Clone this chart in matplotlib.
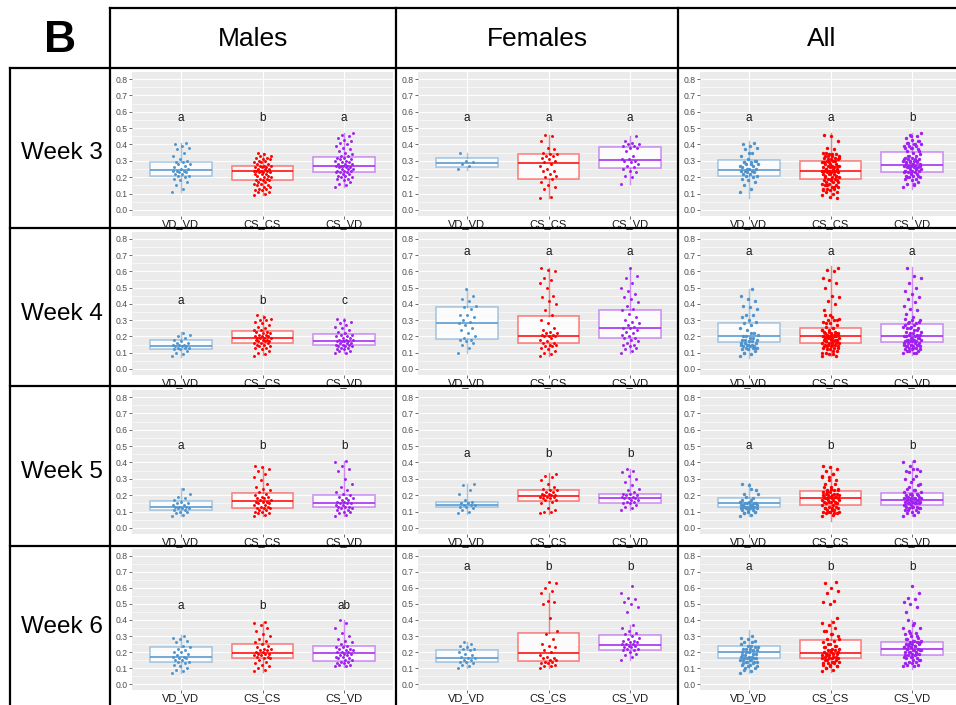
import numpy as np
import matplotlib
matplotlib.use("Agg")
import matplotlib.pyplot as plt
from matplotlib.lines import Line2D
from matplotlib.ticker import FormatStrFormatter, MultipleLocator

plt.rcParams['font.family'] = ['Liberation Sans', 'DejaVu Sans']

genotypes = ["VD_VD", "CS_CS", "CS_VD"]
sexes = ["Males", "Females", "All"]
weeks = ["Week 3", "Week 4", "Week 5", "Week 6"]
colors = ["#4F94CD", "#FF0000", "#A020F0"]

# individual values (x100), one list per genotype: VD_VD, CS_CS, CS_VD
males_w3 = [
    [11, 13, 15, 17, 18, 19, 20, 21, 21, 22, 22, 23, 23, 24, 24, 24, 25, 25, 26, 27, 28, 28, 29, 29, 30, 31, 33, 35, 37, 38, 39, 40, 41],
    [9, 10, 11, 11, 12, 12, 13, 13, 14, 14, 15, 15, 16, 16, 17, 17, 18, 18, 18, 19, 19, 20, 20, 21, 21, 22, 22, 22, 23, 23, 23, 24, 24, 24,
     24, 25, 25, 25, 26, 26, 26, 27, 27, 27, 28, 28, 29, 29, 30, 30, 31, 31, 32, 32, 33, 33, 34, 35],
    [14, 15, 16, 17, 18, 19, 19, 20, 20, 21, 21, 22, 22, 23, 23, 23, 24, 24, 24, 25, 25, 25, 26, 26, 26, 27, 27, 27, 27, 28, 28, 28, 29,
     29, 30, 30, 31, 31, 32, 32, 33, 33, 34, 35, 36, 37, 38, 39, 40, 41, 42, 43, 44, 45, 46, 47],
]
females_w3 = [
    [25, 27, 28, 29, 30, 35],
    [7, 8, 13, 14, 15, 17, 19, 20, 21, 22, 24, 24, 25, 27, 28, 29, 30, 31, 32, 33, 33, 34, 34, 35, 37, 38, 42, 45, 46],
    [16, 20, 21, 23, 24, 25, 26, 27, 28, 29, 30, 30, 31, 31, 33, 36, 38, 38, 39, 39, 40, 40, 41, 42, 45],
]
males_w4 = [
    [8, 9, 10, 11, 12, 12, 13, 13, 13, 14, 14, 14, 15, 15, 15, 16, 16, 17, 18, 19, 20, 21, 22],
    [8, 9, 10, 11, 12, 13, 13, 14, 14, 15, 15, 16, 16, 16, 17, 17, 17, 18, 18, 18, 19, 19, 19, 19, 20, 20, 20, 21, 21, 22, 22, 23, 23,
     24, 24, 25, 26, 27, 28, 29, 30, 30, 31, 32, 33],
    [10, 10, 11, 11, 12, 12, 13, 13, 14, 14, 14, 15, 15, 15, 16, 16, 16, 17, 17, 17, 17, 18, 18, 18, 19, 19, 20, 20, 21, 21, 22, 23, 24,
     25, 26, 27, 28, 29, 30, 31],
]
females_w4 = [
    [10, 13, 15, 16, 17, 18, 18, 19, 20, 22, 24, 25, 27, 28, 29, 30, 32, 33, 33, 37, 38, 39, 42, 43, 45, 49],
    [8, 9, 10, 11, 12, 13, 14, 14, 15, 15, 16, 16, 17, 18, 19, 20, 20, 20, 21, 21, 22, 22, 23, 24, 25, 28, 30, 33, 36, 40, 42, 44, 45,
     50, 53, 55, 56, 60, 61, 62],
    [10, 11, 12, 13, 14, 15, 15, 16, 17, 18, 19, 19, 20, 21, 22, 23, 24, 25, 25, 26, 27, 28, 29, 30, 32, 34, 36, 37, 39, 41, 43, 44, 46,
     48, 50, 53, 56, 57, 62],
]
males_w5 = [
    [7, 8, 9, 10, 10, 11, 11, 12, 12, 12, 13, 13, 13, 14, 14, 15, 15, 16, 17, 18, 19, 21, 24],
    [7, 8, 9, 9, 10, 10, 11, 11, 12, 12, 12, 13, 13, 14, 14, 15, 15, 16, 16, 16, 17, 17, 18, 18, 19, 19, 20, 21, 22, 23, 24, 25, 27, 29,
     31, 33, 35, 36, 37, 38],
    [7, 8, 9, 10, 10, 11, 11, 12, 12, 13, 13, 13, 14, 14, 15, 15, 15, 16, 16, 17, 17, 18, 18, 19, 20, 21, 22, 23, 25, 27, 30, 35, 36, 38,
     40, 41],
]
females_w5 = [
    [9, 10, 11, 12, 13, 13, 14, 14, 14, 15, 15, 16, 17, 21, 23, 26, 27],
    [9, 10, 10, 11, 12, 15, 16, 17, 17, 18, 18, 19, 19, 19, 20, 20, 20, 21, 21, 22, 22, 23, 23, 24, 25, 27, 29, 31, 32, 33],
    [11, 12, 13, 14, 15, 15, 16, 16, 17, 17, 18, 18, 18, 19, 19, 20, 20, 21, 21, 22, 23, 24, 26, 28, 30, 32, 34, 35, 36],
]
males_w6 = [
    [7, 8, 9, 10, 11, 12, 13, 14, 14, 15, 15, 16, 16, 17, 17, 18, 19, 20, 20, 21, 22, 23, 24, 26, 27, 28, 29, 30],
    [8, 9, 10, 11, 12, 13, 14, 15, 16, 16, 17, 17, 18, 18, 19, 19, 19, 20, 20, 21, 21, 22, 22, 23, 24, 25, 26, 27, 28, 30, 31, 33, 35,
     37, 38, 39],
    [11, 11, 12, 12, 13, 13, 14, 14, 15, 15, 16, 16, 17, 17, 18, 18, 19, 19, 20, 20, 20, 21, 21, 22, 22, 23, 23, 24, 25, 26, 27, 28, 30,
     32, 35, 38, 40],
]
females_w6 = [
    [10, 11, 12, 13, 14, 14, 15, 15, 16, 16, 17, 18, 19, 20, 21, 22, 22, 23, 24, 25, 26],
    [10, 11, 11, 12, 13, 13, 14, 14, 15, 15, 16, 16, 17, 18, 20, 21, 23, 24, 25, 28, 31, 33, 41, 50, 51, 52, 57, 58, 60, 63, 64],
    [15, 17, 18, 19, 20, 21, 21, 22, 22, 23, 23, 24, 24, 25, 25, 25, 26, 26, 27, 27, 28, 29, 30, 31, 32, 33, 35, 37, 45, 48, 50, 51, 53,
     54, 57, 61],
]

# box statistics per genotype: (q1, median, q3, whisker low, whisker high)
box_males = [
    [(0.21, 0.245, 0.295, 0.11, 0.41), (0.18, 0.235, 0.27, 0.09, 0.35), (0.23, 0.27, 0.325, 0.14, 0.47)],
    [(0.12, 0.14, 0.18, 0.075, 0.225), (0.16, 0.19, 0.235, 0.085, 0.335), (0.145, 0.17, 0.215, 0.10, 0.315)],
    [(0.11, 0.13, 0.165, 0.07, 0.245), (0.12, 0.165, 0.215, 0.07, 0.38), (0.125, 0.155, 0.20, 0.07, 0.41)],
    [(0.14, 0.17, 0.23, 0.07, 0.305), (0.16, 0.195, 0.25, 0.075, 0.39), (0.145, 0.195, 0.235, 0.105, 0.40)],
]
box_females = [
    [(0.265, 0.285, 0.315, 0.245, 0.35), (0.19, 0.285, 0.34, 0.075, 0.46), (0.255, 0.305, 0.385, 0.16, 0.45)],
    [(0.185, 0.28, 0.38, 0.10, 0.49), (0.16, 0.205, 0.325, 0.08, 0.62), (0.19, 0.25, 0.36, 0.10, 0.62)],
    [(0.125, 0.14, 0.16, 0.085, 0.27), (0.165, 0.195, 0.23, 0.085, 0.335), (0.155, 0.18, 0.21, 0.11, 0.36)],
    [(0.14, 0.16, 0.215, 0.10, 0.26), (0.145, 0.195, 0.32, 0.10, 0.57), (0.21, 0.245, 0.305, 0.15, 0.37)],
]
box_all = [
    [(0.21, 0.245, 0.305, 0.075, 0.42), (0.19, 0.24, 0.30, 0.07, 0.47), (0.23, 0.275, 0.355, 0.13, 0.47)],
    [(0.165, 0.20, 0.285, 0.07, 0.49), (0.16, 0.20, 0.255, 0.08, 0.635), (0.165, 0.20, 0.275, 0.085, 0.625)],
    [(0.125, 0.15, 0.185, 0.07, 0.275), (0.14, 0.185, 0.225, 0.045, 0.38), (0.14, 0.17, 0.215, 0.07, 0.41)],
    [(0.16, 0.20, 0.235, 0.07, 0.34), (0.16, 0.195, 0.275, 0.075, 0.40), (0.18, 0.22, 0.265, 0.095, 0.40)],
]

# significance letters and the height they are printed at
letters_males = [["a", "b", "a"], ["a", "b", "c"], ["a", "b", "b"], ["a", "b", "ab"]]
letters_females = [["a", "a", "a"], ["a", "a", "a"], ["a", "b", "b"], ["a", "b", "b"]]
letters_all = [["a", "a", "b"], ["a", "a", "a"], ["a", "b", "b"], ["a", "b", "b"]]
letter_y_males = [0.56, 0.42, 0.50, 0.49]
letter_y_females = [0.56, 0.72, 0.45, 0.73]
letter_y_all = [0.56, 0.72, 0.50, 0.73]

males = [males_w3, males_w4, males_w5, males_w6]
females = [females_w3, females_w4, females_w5, females_w6]
everyone = [[m[g] + f[g] for g in range(3)] for m, f in zip(males, females)]

W, H = 956, 705
fig = plt.figure(figsize=(W / 100, H / 100), dpi=100)


def fx(px):
    return px / W


def fy(py):
    return 1 - py / H


def hline(y, x0, x1):
    fig.add_artist(Line2D([fx(x0), fx(x1)], [fy(y), fy(y)], color="black", lw=1.6))


def vline(x, y0, y1):
    fig.add_artist(Line2D([fx(x), fx(x)], [fy(y0), fy(y1)], color="black", lw=1.6))


col_edges = [110, 396, 678, 960]
row_edges = [68, 228, 386, 546, 710]

# table frame
hline(8, 110, 960)
for y in row_edges[:-1]:
    hline(y, 10, 960)
for x in col_edges[:-1]:
    vline(x, 8, 710)
vline(10, 68, 710)

fig.text(fx(60), fy(40), "B", fontsize=32, fontweight="bold", ha="center", va="center")
for i, s in enumerate(sexes):
    fig.text(fx((col_edges[i] + min(col_edges[i + 1], 956)) / 2 + (5 if i == 2 else 0)), fy(39), s,
             fontsize=19, ha="center", va="center")
week_label_y = [153, 314, 472, 627]
for j, wk in enumerate(weeks):
    fig.text(fx(62), fy(week_label_y[j]), wk, fontsize=17.5, ha="center", va="center")

panel_data = [males, females, everyone]
panel_box = [box_males, box_females, box_all]
panel_letters = [letters_males, letters_females, letters_all]
panel_letter_y = [letter_y_males, letter_y_females, letter_y_all]
panel_top = [72, 232, 390, 549]
panel_h = [144, 143, 144, 141]

for c in range(3):
    for r in range(4):
        left = col_edges[c] + 22
        top = panel_top[r]
        ax = fig.add_axes([fx(left), fy(top + panel_h[r]), fx(261), panel_h[r] / H])
        ax.set_facecolor("#EBEBEB")
        ax.set_xlim(0.4, 3.6)
        ax.set_ylim(-0.037, 0.843)
        ax.yaxis.set_major_locator(MultipleLocator(0.1))
        ax.yaxis.set_minor_locator(MultipleLocator(0.05))
        ax.yaxis.set_major_formatter(FormatStrFormatter("%.1f"))
        ax.set_xticks([1, 2, 3])
        ax.set_xticklabels(genotypes)
        ax.grid(which="major", color="white", lw=0.8)
        ax.grid(which="minor", axis="y", color="white", lw=0.4)
        ax.set_axisbelow(True)
        for sp in ax.spines.values():
            sp.set_visible(False)
        ax.tick_params(axis="y", which="major", labelsize=6.2, length=2, width=0.5, color="#333333",
                       labelcolor="#4D4D4D", pad=1)
        ax.tick_params(axis="x", which="major", labelsize=8, length=2, width=0.5, color="#333333",
                       labelcolor="#1A1A1A", pad=0)
        ax.tick_params(which="minor", length=0)

        for g in range(3):
            q1, med, q3, lo, hi = panel_box[c][r][g]
            stats = [dict(q1=q1, med=med, q3=q3, whislo=lo, whishi=hi, fliers=[])]
            col = matplotlib.colors.to_rgb(colors[g])
            ax.bxp(stats, positions=[g + 1], widths=0.75, patch_artist=True, showcaps=False,
                   showfliers=False, manage_ticks=False,
                   boxprops=dict(facecolor=(1, 1, 1, 0.85), edgecolor=col + (0.5,), lw=1.1),
                   whiskerprops=dict(color=col + (0.5,), lw=1.0),
                   medianprops=dict(color=col + (0.85,), lw=1.3))

            vals = np.array(panel_data[c][r][g]) / 100
            n = len(vals)
            offs = ((np.arange(n) * 0.6180339887) % 1 - 0.5) * 0.22
            ax.scatter(g + 1 + offs, vals, s=6 if c == 2 else 4.5, color=colors[g], lw=0, zorder=4)

            ax.text(g + 1, panel_letter_y[c][r], panel_letters[c][r][g], ha="center", va="center",
                    fontsize=8.5, color="#1A1A1A")

fig.savefig("out.png", dpi=100)
